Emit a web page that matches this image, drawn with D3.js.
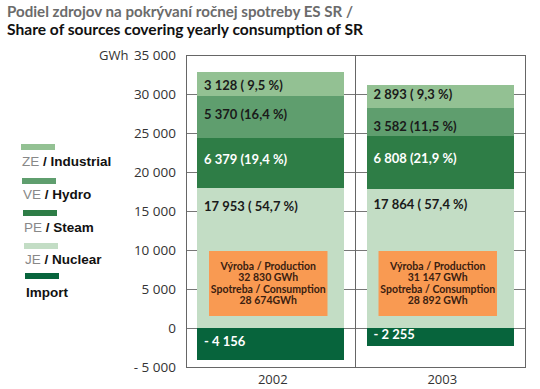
<!DOCTYPE html>
<html><head><meta charset="utf-8">
<script src="https://cdn.jsdelivr.net/npm/d3@7"></script>
<style>body{margin:0;background:#fff}svg{display:block}</style>
</head><body>
<svg id="c" width="540" height="389"></svg>
<script>
const years = ["2002", "2003"];
const seriesKeys = ["Import", "JE", "PE", "VE", "ZE"];
const importVals = [-4156, -2255];
const jeVals = [17953, 17864];
const peVals = [6379, 6808];
const veVals = [5370, 3582];
const zeVals = [3128, 2893];
const jeLabels = ["17 953 ( 54,7 %)", "17 864 ( 57,4 %)"];
const peLabels = ["6 379 (19,4 %)", "6 808 (21,9 %)"];
const veLabels = ["5 370 (16,4 %)", "3 582 (11,5 %)"];
const zeLabels = ["3 128 ( 9,5 %)", "2 893 ( 9,3 %)"];
const importLabels = ["- 4 156", "- 2 255"];
const productionLabels = ["32 830 GWh", "31 147 GWh"];
const consumptionLabels = ["28 674GWh", "28 892 GWh"];
const yTicks = [-5000, 0, 5000, 10000, 15000, 20000, 25000, 30000, 35000];
const yTickLabels = ["- 5 000", "0", "5 000", "10 000", "15 000", "20 000", "25 000", "30 000", "35 000"];
const legendCodes = ["ZE", "VE", "PE", "JE", ""];
const legendNames = ["Industrial", "Hydro", "Steam", "Nuclear", "Import"];

// layout (label offsets below each segment's top edge, px)
const labelOffsets = {ZE: [18, 14], VE: [23, 23.5], PE: [26, 27], JE: [23, 20], Import: [18, 10.5]};

const colors = {ZE:"#93c193", VE:"#5f9e6e", PE:"#2e7d46", JE:"#c3ddc5", Import:"#07643c"};
const labelColor = {ZE:"#1a1a1a", VE:"#1a1a1a", PE:"#ffffff", JE:"#1a1a1a", Import:"#ffffff"};

const svg = d3.select("#c");
const L = 186, R = 525, T = 55, B = 367;
const x = d3.scaleBand().domain(years).range([L, R]).paddingInner(0.13).paddingOuter(0.065);
const xCat = d3.scaleBand().domain(years).range([L, R]);
const y = d3.scaleLinear().domain([-5000, 35000]).range([B, T]);

// title
const title = svg.append("text").attr("font-family", "Lato, 'Open Sans', sans-serif").attr("font-weight", "bold").attr("font-size", 15);
title.append("tspan").attr("x", 7).attr("y", 17).attr("fill", "#6b6b6b")
  .attr("textLength", 346).attr("lengthAdjust", "spacingAndGlyphs")
  .text("Podiel zdrojov na pokrývaní ročnej spotreby ES SR /");
svg.append("text").attr("font-family", "Lato, 'Open Sans', sans-serif").attr("font-weight", "bold").attr("font-size", 15)
  .attr("x", 7).attr("y", 35).attr("fill", "#111")
  .attr("textLength", 356).attr("lengthAdjust", "spacingAndGlyphs")
  .text("Share of sources covering yearly consumption of SR");

// gridlines
svg.append("g").selectAll("line").data(yTicks).join("line")
  .attr("x1", L).attr("x2", R).attr("y1", d => y(d)).attr("y2", d => y(d))
  .attr("stroke", "#777").attr("stroke-width", 1).attr("shape-rendering", "crispEdges");

// frame
svg.append("rect").attr("x", L).attr("y", T).attr("width", R - L).attr("height", B - T)
  .attr("fill", "none").attr("stroke", "#666").attr("shape-rendering", "crispEdges");
svg.append("line").attr("x1", xCat("2003")).attr("x2", xCat("2003")).attr("y1", T).attr("y2", B)
  .attr("stroke", "#666").attr("shape-rendering", "crispEdges");

// stacked data
const rows = years.map((yr, i) => ({year: yr, Import: importVals[i], JE: jeVals[i], PE: peVals[i], VE: veVals[i], ZE: zeVals[i]}));
const labelsBy = {Import: importLabels, JE: jeLabels, PE: peLabels, VE: veLabels, ZE: zeLabels};
const stack = d3.stack().keys(seriesKeys).offset(d3.stackOffsetDiverging);
const layers = stack(rows);

const g = svg.append("g");
layers.forEach(layer => {
  const k = layer.key;
  layer.forEach((seg, i) => {
    const y0 = y(Math.max(seg[0], seg[1])), y1 = y(Math.min(seg[0], seg[1]));
    g.append("rect").attr("x", x(years[i])).attr("width", x.bandwidth())
      .attr("y", y0).attr("height", y1 - y0).attr("fill", colors[k]).attr("shape-rendering", "crispEdges");
  });
});
layers.forEach(layer => {
  const k = layer.key;
  layer.forEach((seg, i) => {
    const y0 = y(Math.max(seg[0], seg[1]));
    g.append("text").attr("x", x(years[i]) + 7).attr("y", y0 + labelOffsets[k][i])
      .attr("font-family", "Lato, 'Open Sans', sans-serif").attr("font-weight", "bold").attr("font-size", 13)
      .attr("fill", labelColor[k]).text(labelsBy[k][i]);
  });
});

// orange boxes
years.forEach((yr, i) => {
  const bx = x(yr) + 12, bw = x.bandwidth() - 29;
  g.append("rect").attr("x", bx).attr("y", 251).attr("width", bw).attr("height", 65).attr("fill", "#f99a52");
  const lines = ["Výroba / Production", productionLabels[i], "Spotreba / Consumption", consumptionLabels[i]];
  lines.forEach((t, j) => {
    g.append("text").attr("x", bx + bw / 2).attr("y", 270 + j * 11.4).attr("text-anchor", "middle")
      .attr("font-family", "Lato, 'Open Sans', sans-serif").attr("font-weight", "bold").attr("font-size", 10.5)
      .attr("fill", "#3a2010").text(t);
  });
});

// y axis labels
svg.append("g").selectAll("text").data(yTicks).join("text")
  .attr("x", 176).attr("y", d => y(d) + 5).attr("text-anchor", "end")
  .attr("font-family", "'Open Sans', sans-serif").attr("font-size", 13.5).attr("fill", "#333")
  .text((d, i) => yTickLabels[i]);
svg.append("text").attr("x", 99).attr("y", 60).attr("font-family", "'Open Sans', sans-serif")
  .attr("font-size", 13).attr("fill", "#333").text("GWh");

// x labels
svg.append("g").selectAll("text").data(years).join("text")
  .attr("x", d => xCat(d) + xCat.bandwidth() / 2 + 2).attr("y", 384).attr("text-anchor", "middle")
  .attr("font-family", "'Open Sans', sans-serif").attr("font-size", 13).attr("fill", "#333").text(d => d);

// legend
const legKeys = ["ZE", "VE", "PE", "JE", "Import"];
const legRectY = [144, 178, 210, 243, 273];
const legTextY = [166, 199, 232, 264, 297];
const legX = [21, 22, 23, 24, 25];
legKeys.forEach((k, i) => {
  svg.append("rect").attr("x", legX[i]).attr("y", legRectY[i]).attr("width", 34).attr("height", 6).attr("fill", colors[k]);
  const t = svg.append("text").attr("x", legX[i] + 1).attr("y", legTextY[i])
    .attr("font-family", "'Liberation Sans', Arial, sans-serif").attr("font-size", 13.5);
  if (legendCodes[i]) {
    t.append("tspan").attr("fill", "#888").text(legendCodes[i] + " ");
    t.append("tspan").attr("fill", "#111").attr("font-weight", "bold").text("/ " + legendNames[i]);
  } else {
    t.append("tspan").attr("fill", "#111").attr("font-weight", "bold").text(legendNames[i]);
  }
});
</script>
</body></html>
